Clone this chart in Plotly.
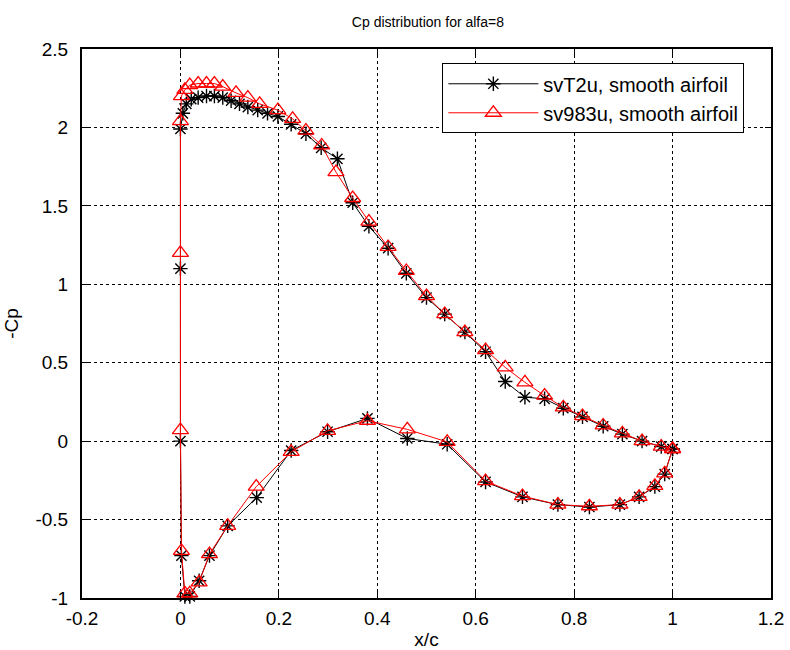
import plotly.graph_objects as go

# Black series: svT2u, smooth airfoil (upper surface LE->TE, then LE column, then lower surface LE->TE)
svT2u_upper_x = [0.0, 0.005, 0.012, 0.022, 0.036, 0.053, 0.069, 0.086, 0.103, 0.12, 0.137, 0.157, 0.177,
                 0.198, 0.225, 0.255, 0.286, 0.319, 0.35, 0.383, 0.422, 0.459, 0.50, 0.537, 0.578, 0.62,
                 0.66, 0.70, 0.74, 0.778, 0.817, 0.859, 0.898, 0.938, 0.977, 1.0]
svT2u_upper_cp = [1.99, 2.09, 2.15, 2.18, 2.19, 2.2, 2.2, 2.19, 2.17, 2.15, 2.13, 2.11, 2.09,
                  2.07, 2.02, 1.96, 1.87, 1.80, 1.52, 1.37, 1.23, 1.07, 0.915, 0.81, 0.695, 0.57,
                  0.38, 0.28, 0.27, 0.21, 0.155, 0.095, 0.045, 0.0, -0.035, -0.05]
svT2u_lower_x = [0.0, 0.0, 0.002, 0.009, 0.019, 0.038, 0.059, 0.096, 0.155, 0.225, 0.299, 0.38, 0.461,
                 0.542, 0.62, 0.695, 0.767, 0.831, 0.893, 0.932, 0.964, 0.984, 1.0]
svT2u_lower_cp = [1.1, 0.0, -0.73, -0.99, -0.99, -0.89, -0.73, -0.54, -0.36, -0.06, 0.06, 0.145, 0.017,
                  -0.02, -0.26, -0.355, -0.405, -0.42, -0.405, -0.355, -0.29, -0.21, -0.05]

# Red series: sv983u, smooth airfoil
sv983u_upper_x = [0.0, 0.002, 0.009, 0.019, 0.036, 0.053, 0.069, 0.086, 0.113, 0.137, 0.161, 0.198, 0.228,
                  0.255, 0.287, 0.316, 0.35, 0.383, 0.422, 0.459, 0.50, 0.537, 0.578, 0.62, 0.66, 0.70,
                  0.74, 0.778, 0.817, 0.859, 0.898, 0.938, 0.977, 1.0]
sv983u_upper_cp = [2.04, 2.2, 2.24, 2.27, 2.28, 2.28, 2.28, 2.26, 2.22, 2.19, 2.15, 2.11, 2.055,
                   1.98, 1.885, 1.715, 1.55, 1.40, 1.238, 1.085, 0.925, 0.81, 0.695, 0.58, 0.47, 0.375,
                   0.29, 0.215, 0.16, 0.10, 0.05, 0.0, -0.035, -0.05]
sv983u_lower_x = [0.0, 0.0, 0.002, 0.009, 0.019, 0.038, 0.059, 0.096, 0.154, 0.225, 0.299, 0.38, 0.461,
                  0.542, 0.62, 0.695, 0.767, 0.831, 0.893, 0.932, 0.964, 0.984, 1.0]
sv983u_lower_cp = [1.2, 0.07, -0.7, -0.97, -0.97, -0.9, -0.72, -0.54, -0.29, -0.068, 0.066, 0.13, 0.075,
                   -0.005, -0.255, -0.35, -0.405, -0.415, -0.405, -0.355, -0.285, -0.205, -0.05]

x_tickvals = [-0.2, 0, 0.2, 0.4, 0.6, 0.8, 1, 1.2]
x_ticktext = ["-0.2", "0", "0.2", "0.4", "0.6", "0.8", "1", "1.2"]
y_tickvals = [-1, -0.5, 0, 0.5, 1, 1.5, 2, 2.5]
y_ticktext = ["-1", "-0.5", "0", "0.5", "1", "1.5", "2", "2.5"]

FONT = "Liberation Sans, Arial, sans-serif"


def loop(ux, uy, lx, ly):
    # TE -> LE along upper surface, then down the LE column and along lower surface back to TE
    return list(reversed(ux)) + lx, list(reversed(uy)) + ly


bx, by = loop(svT2u_upper_x, svT2u_upper_cp, svT2u_lower_x, svT2u_lower_cp)
rx, ry = loop(sv983u_upper_x, sv983u_upper_cp, sv983u_lower_x, sv983u_lower_cp)

fig = go.Figure()
fig.add_trace(go.Scatter(
    x=bx, y=by, mode="lines+markers", name="svT2u, smooth airfoil",
    line=dict(color="black", width=1),
    marker=dict(symbol="asterisk-open", size=12, color="black", line=dict(color="black", width=1.4)),
    cliponaxis=False,
))
fig.add_trace(go.Scatter(
    x=rx, y=ry, mode="lines+markers", name="sv983u, smooth airfoil",
    line=dict(color="red", width=1),
    marker=dict(symbol="triangle-up-open", size=14, color="red", line=dict(color="red", width=1.3)),
    cliponaxis=False,
))

axis_common = dict(
    showline=True, linecolor="black", linewidth=2, mirror="ticks",
    ticks="inside", ticklen=6, tickcolor="black", tickwidth=1,
    showgrid=True, gridcolor="black", gridwidth=1, griddash="dot",
    zeroline=False, automargin=False, tickfont=dict(family=FONT, size=19, color="black"),
)

fig.update_layout(
    width=790, height=650,
    margin=dict(l=82, r=19, t=49, b=52),
    paper_bgcolor="white", plot_bgcolor="white",
    font=dict(family=FONT, size=19, color="black"),
    title=dict(text="Cp distribution for alfa=8", x=0.5417, xanchor="center", y=0.966, yanchor="middle",
               font=dict(family=FONT, size=14, color="black")),
    xaxis=dict(range=[-0.2, 1.2], tickvals=x_tickvals, ticktext=x_ticktext, ticklabelstandoff=2,
               title=dict(text="x/c", font=dict(family=FONT, size=19), standoff=6), **axis_common),
    yaxis=dict(range=[-1, 2.5], tickvals=y_tickvals, ticktext=y_ticktext, ticklabelstandoff=8,
               title=dict(text="-Cp", font=dict(family=FONT, size=19), standoff=12), **axis_common),
    showlegend=True,
    legend=dict(x=0.523, y=0.974, xanchor="left", yanchor="top",
                bgcolor="white", bordercolor="black", borderwidth=1,
                font=dict(family=FONT, size=20, color="black"),
                tracegroupgap=0, itemwidth=90),
)

fig.write_html("out.html")
